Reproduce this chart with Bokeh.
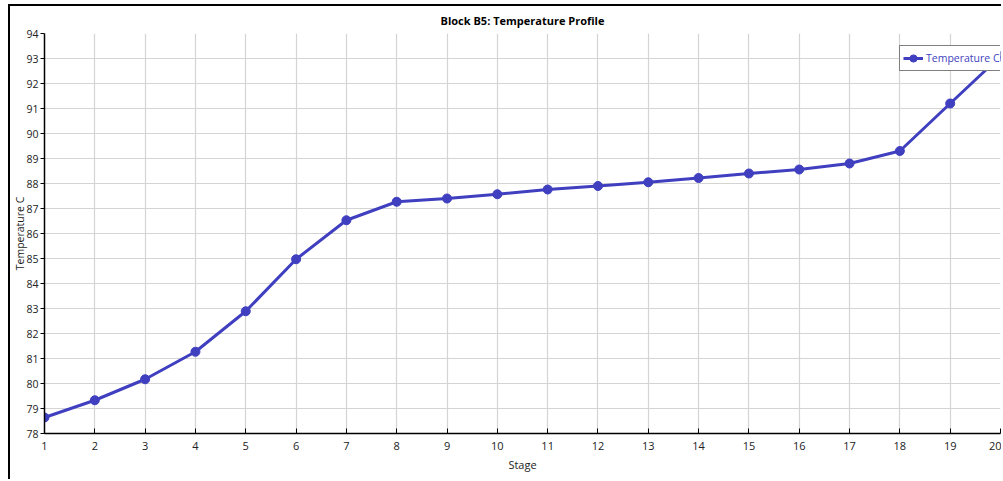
from bokeh.plotting import figure
from bokeh.models import Range1d, FixedTicker, Legend, LegendItem
from bokeh.embed import file_html
from bokeh.resources import INLINE

stages = list(range(1, 21))
temps = [78.64, 79.33, 80.17, 81.27, 82.89, 84.97, 86.53, 87.27, 87.40, 87.57,
         87.76, 87.90, 88.05, 88.22, 88.40, 88.56, 88.80, 89.30, 91.20, 93.09]
x_ticks = list(range(1, 21))
y_ticks = list(range(78, 95))

title_text = "Block B5: Temperature Profile"
x_label = "Stage"
y_label = "Temperature C"
series_name = "Temperature C"

LINE = "#3f3fc0"
FONT = "Open Sans"

p = figure(width=993, height=475, output_backend="svg", toolbar_location=None,
           x_range=Range1d(1, 20), y_range=Range1d(78, 94),
           min_border_left=34, min_border_right=3, min_border_top=27, min_border_bottom=48,
           styles={"border-left": "2px solid black", "border-top": "2px solid black",
                   "margin-left": "8px", "margin-top": "4px"})

p.title.text = title_text
p.title.align = "center"
p.title.vertical_align = "middle"
p.title.text_font = FONT
p.title.text_font_style = "bold"
p.title.text_font_size = "11px"
p.title.text_color = "black"

p.outline_line_color = None
p.background_fill_color = "white"
p.border_fill_color = "white"

p.xaxis.ticker = FixedTicker(ticks=x_ticks)
p.yaxis.ticker = FixedTicker(ticks=y_ticks)
p.xgrid.ticker = FixedTicker(ticks=x_ticks)
p.ygrid.ticker = FixedTicker(ticks=y_ticks)
for g in (p.xgrid, p.ygrid):
    g.grid_line_color = "#d4d4d4"
    g.grid_line_width = 1.2

p.xaxis.axis_label = x_label
p.yaxis.axis_label = y_label
for ax in (p.xaxis, p.yaxis):
    ax.axis_line_color = "black"
    ax.axis_line_width = 1.5
    ax.major_tick_line_color = "black"
    ax.minor_tick_line_color = None
    ax.major_label_text_font = FONT
    ax.major_label_text_font_size = "11px"
    ax.major_label_text_color = "#222222"
    ax.axis_label_text_font = FONT
    ax.axis_label_text_font_size = "11px"
    ax.axis_label_text_font_style = "normal"
    ax.axis_label_text_color = "#222222"
p.yaxis.major_label_text_font_size = "10.5px"
p.yaxis.axis_label_text_font_size = "10.5px"
p.xaxis.major_tick_in = 5
p.xaxis.major_tick_out = 0
p.yaxis.major_tick_in = 0
p.yaxis.major_tick_out = 4
p.xaxis.major_label_standoff = 8
p.yaxis.major_label_standoff = 2
p.xaxis.axis_label_standoff = 4
p.yaxis.axis_label_standoff = -4

r_line = p.line(stages, temps, line_color=LINE, line_width=3)
r_pts = p.scatter(stages, temps, size=9, fill_color=LINE, line_color=LINE)

legend = Legend(items=[LegendItem(label=series_name, renderers=[r_line, r_pts])],
                location=(855, 362))
legend.label_text_font = FONT
legend.label_text_font_size = "10.5px"
legend.label_text_color = LINE
legend.border_line_color = "black"
legend.border_line_width = 1
legend.background_fill_color = "white"
legend.background_fill_alpha = 1
legend.glyph_width = 20
legend.glyph_height = 18
legend.padding = 3
legend.margin = 0
legend.label_standoff = 3
legend.spacing = 0
p.add_layout(legend)

open("out.html", "w").write(file_html(p, INLINE))
